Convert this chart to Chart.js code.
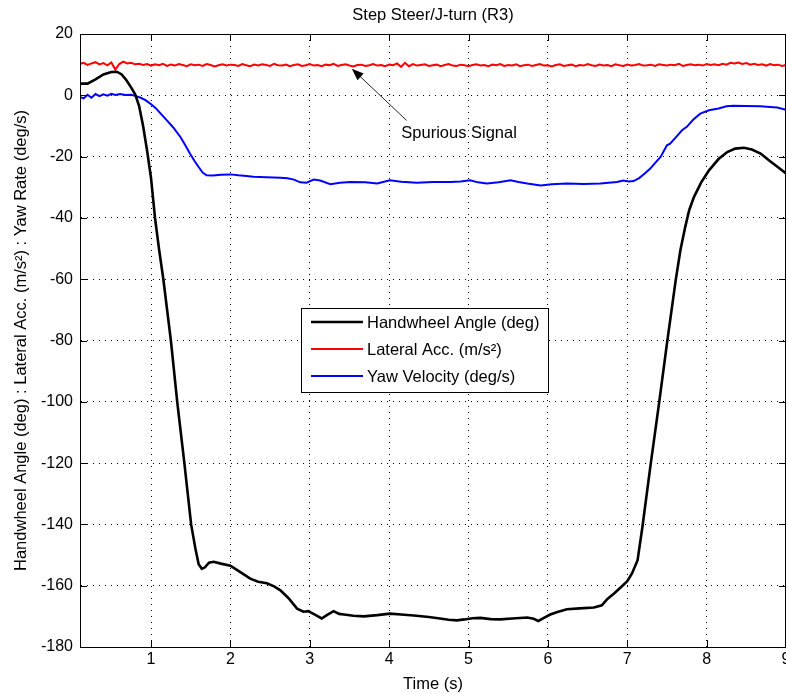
<!DOCTYPE html>
<html>
<head>
<meta charset="utf-8">
<script src="https://cdn.jsdelivr.net/npm/chart.js@4.4.0/dist/chart.umd.min.js"></script>
<style>
body { margin: 0; background: #fff; }
canvas { display: block; }
</style>
</head>
<body>
<canvas id="chart" width="786" height="694"></canvas>
<script>
// Step Steer / J-turn (R3) - handwheel, lateral acc, yaw velocity vs time
var seriesNames = ['Handwheel Angle (deg)', 'Lateral Acc. (m/s\u00B2)', 'Yaw Velocity (deg/s)'];
var xTicks = [1, 2, 3, 4, 5, 6, 7, 8, 9];
var yTicks = [20, 0, -20, -40, -60, -80, -100, -120, -140, -160, -180];

// handwheel angle (black)
var hwTime = [0.105, 0.2, 0.3, 0.4, 0.5, 0.57, 0.63, 0.69, 0.75, 0.8, 0.85, 0.9, 0.95, 1.0, 1.05, 1.1, 1.155, 1.25, 1.33, 1.42,
    1.505, 1.56, 1.6, 1.64, 1.68, 1.73, 1.79, 1.88, 2.0, 2.12, 2.25, 2.35, 2.46, 2.55, 2.63, 2.73, 2.84, 2.92, 2.98, 3.07,
    3.15, 3.22, 3.3, 3.37, 3.43, 3.55, 3.68, 3.85, 4.01, 4.15, 4.31, 4.5, 4.64, 4.75, 4.85, 4.95, 5.05, 5.15, 5.28, 5.4,
    5.55, 5.74, 5.82, 5.88, 5.95, 6.03, 6.12, 6.24, 6.4, 6.58, 6.68, 6.75, 6.83, 6.92, 7.0, 7.06, 7.13, 7.19, 7.29, 7.4,
    7.5, 7.61, 7.67, 7.73, 7.78, 7.84, 7.93, 8.03, 8.15, 8.26, 8.36, 8.47, 8.57, 8.68, 8.8, 8.9, 9.0];
var hwAngle = [3.8, 3.8, 5.2, 6.8, 7.6, 7.7, 6.8, 4.9, 2.5, 0.3, -3.5, -10, -18, -27, -40, -50, -60, -80, -100, -120,
    -140, -148, -153, -154.5, -154, -152.5, -152.2, -152.8, -153.5, -155.5, -157.7, -158.7, -159.2, -160.2, -161.5, -164, -167.5, -168.5, -168.3, -169.5,
    -170.7, -169.5, -168.3, -169.2, -169.4, -169.8, -170, -169.6, -169.1, -169.4, -169.7, -170.2, -170.7, -171.1, -171.3, -171, -170.6, -170.5, -170.9, -171,
    -170.7, -170.4, -170.8, -171.5, -170.5, -169.4, -168.6, -167.7, -167.4, -167.1, -166.4, -164.3, -162.6, -160.5, -158.5, -156, -151.7, -141, -121.3, -100.6,
    -81, -60.4, -50.5, -43, -37.5, -33.2, -28.5, -24.5, -20.8, -18.5, -17.4, -17.1, -17.7, -19, -21.5, -23.5, -25.5];

// lateral acceleration (red), sampled every 0.05 s from 0.10 s
var accStart = 0.1;
var accStep = 0.05;
var accValues = [
    10.2, 10.6, 9.9, 10.4, 10.8, 10.1, 10.5, 9.8, 10.7, 8.4, 10.2, 11.0, 10.4, 10.6, 10.1, 10.3, 9.9, 10.2, 9.7, 10.1,
    9.8, 10.3, 9.6, 10.0, 9.7, 10.2, 9.9, 9.5, 10.1, 9.8, 10.0, 9.6, 10.2, 9.9, 9.4, 9.8, 10.1, 9.7, 10.0, 9.9,
    9.6, 10.2, 9.8, 9.5, 10.0, 9.7, 10.1, 9.9, 9.6, 10.3, 9.8, 9.7, 10.0, 9.5, 9.9, 10.1, 9.6, 9.8, 10.2, 9.7,
    9.9, 9.5, 10.0, 9.8, 10.3, 9.6, 9.9, 10.1, 9.7, 9.4, 9.9, 10.0, 9.6, 9.8, 10.2, 9.7, 9.9, 9.5, 10.0, 9.8,
    10.4, 9.3, 10.6, 9.5, 10.2, 9.7, 9.9, 10.1, 9.6, 9.8, 10.0, 9.5, 9.9, 10.2, 9.7, 9.6, 10.0, 9.8, 9.5, 9.9,
    10.1, 9.7, 9.9, 9.5, 10.0, 9.8, 10.2, 9.6, 9.9, 9.7, 10.1, 9.5, 9.8, 10.0, 9.6, 9.9, 10.2, 9.7, 9.8, 9.4,
    9.9, 10.1, 9.6, 9.8, 10.0, 9.5, 9.9, 9.7, 10.2, 9.8, 9.6, 10.0, 9.7, 9.9, 9.5, 10.1, 9.8, 9.6, 10.0, 9.7,
    9.9, 10.2, 9.7, 9.8, 10.0, 9.6, 10.1, 9.9, 9.7, 10.0, 9.8, 10.3, 9.6, 9.9, 10.1, 9.8, 10.0, 9.7, 10.2, 9.9,
    10.1, 9.8, 10.3, 10.0, 10.6, 10.4, 10.7, 10.2, 10.5, 10.0, 10.3, 9.9, 10.1, 9.7, 10.2, 9.8, 10.0, 9.6, 9.9];

// yaw velocity (blue)
var yawTime = [0.105, 0.15, 0.2, 0.25, 0.3, 0.35, 0.4, 0.45, 0.5, 0.55, 0.61, 0.68, 0.75, 0.8, 0.87, 0.93, 0.99, 1.06, 1.13, 1.2,
    1.28, 1.37, 1.43, 1.49, 1.55, 1.6, 1.65, 1.7, 1.78, 1.88, 2.0, 2.1, 2.2, 2.29, 2.45, 2.63, 2.72, 2.8, 2.88, 2.96,
    3.05, 3.13, 3.26, 3.38, 3.51, 3.7, 3.85, 4.01, 4.15, 4.35, 4.55, 4.77, 4.9, 5.02, 5.12, 5.23, 5.38, 5.53, 5.63, 5.74,
    5.91, 6.05, 6.24, 6.45, 6.66, 6.87, 6.95, 7.02, 7.08, 7.15, 7.22, 7.29, 7.36, 7.42, 7.5, 7.54, 7.62, 7.69, 7.75, 7.83,
    7.92, 8.03, 8.15, 8.25, 8.34, 8.5, 8.68, 8.8, 8.89, 9.0];
var yawRate = [-0.5, -1.0, 0.2, -0.8, 0.4, -0.3, 0.3, -0.1, 0.5, 0.1, 0.4, 0.1, 0.2, -0.2, -0.8, -1.6, -2.7, -4.2, -6.2, -8.2,
    -10.5, -13.6, -16.2, -19, -21.5, -23.4, -25.2, -26.1, -26.2, -25.9, -25.8, -26.1, -26.3, -26.6, -26.7, -26.9, -27.1, -27.5, -28.4, -28.5,
    -27.5, -27.8, -29, -28.5, -28.3, -28.4, -28.8, -27.7, -28.2, -28.5, -28.3, -28.3, -28.1, -27.7, -28.4, -28.8, -28.4, -27.7, -28.3, -28.8,
    -29.4, -29, -28.8, -28.9, -28.8, -28.3, -27.8, -28.1, -28, -27, -25.5, -23.9, -21.8, -20.1, -16.3, -15.8, -13.5, -11.4, -10.3, -8,
    -6, -4.9, -4.3, -3.6, -3.4, -3.5, -3.6, -3.8, -4, -4.7];

var FONT = "'Liberation Sans', Arial, Helvetica, sans-serif";

function toPoints(xs, ys) {
    var pts = [];
    for (var i = 0; i < ys.length; i++) pts.push({x: xs[i], y: ys[i]});
    return pts;
}
var accTime = accValues.map(function (v, i) { return +(accStart + i * accStep).toFixed(2); });

// box, inward tick marks, legend and the "Spurious Signal" note
var matlabDecor = {
    id: 'matlabDecor',
    afterDatasetsDraw: function (chart) {
        var ctx = chart.ctx, a = chart.chartArea;
        var xs = chart.scales.x, ys = chart.scales.y;
        ctx.save();
        ctx.strokeStyle = '#000';
        ctx.lineWidth = 1;
        ctx.strokeRect(Math.round(a.left) + 0.5, Math.round(a.top) + 0.5, Math.round(a.right - a.left) - 1, Math.round(a.bottom - a.top));
        ctx.beginPath();
        xTicks.forEach(function (t) {
            var px = Math.round(xs.getPixelForValue(t)) + 0.5;
            ctx.moveTo(px, a.bottom); ctx.lineTo(px, a.bottom - 7);
            ctx.moveTo(px, a.top); ctx.lineTo(px, a.top + 7);
        });
        yTicks.forEach(function (t) {
            var py = Math.round(ys.getPixelForValue(t)) + 0.5;
            ctx.moveTo(a.left, py); ctx.lineTo(a.left + 7, py);
            ctx.moveTo(a.right, py); ctx.lineTo(a.right - 7, py);
        });
        ctx.stroke();
        ctx.restore();
    },
    afterDraw: function (chart) {
        var ctx = chart.ctx, a = chart.chartArea;
        var xs = chart.scales.x, ys = chart.scales.y;
        ctx.save();

        // annotation arrow
        var tipX = xs.getPixelForValue(3.53), tipY = ys.getPixelForValue(8.7);
        var tailX = xs.getPixelForValue(4.22), tailY = ys.getPixelForValue(-8.2);
        var ang = Math.atan2(tipY - tailY, tipX - tailX);
        ctx.strokeStyle = '#222';
        ctx.lineWidth = 1;
        ctx.beginPath();
        ctx.moveTo(tailX, tailY);
        ctx.lineTo(tipX - 8 * Math.cos(ang), tipY - 8 * Math.sin(ang));
        ctx.stroke();
        ctx.fillStyle = '#000';
        ctx.beginPath();
        ctx.moveTo(tipX, tipY);
        ctx.lineTo(tipX - 12 * Math.cos(ang) + 4.5 * Math.sin(ang), tipY - 12 * Math.sin(ang) - 4.5 * Math.cos(ang));
        ctx.lineTo(tipX - 12 * Math.cos(ang) - 4.5 * Math.sin(ang), tipY - 12 * Math.sin(ang) + 4.5 * Math.cos(ang));
        ctx.closePath();
        ctx.fill();
        ctx.font = '16.5px ' + FONT;
        ctx.textAlign = 'left';
        ctx.textBaseline = 'middle';
        ctx.fillText('Spurious Signal', xs.getPixelForValue(4.153), ys.getPixelForValue(-12.4));

        // legend box
        var lx = Math.round(a.left) + 221, ly = Math.round(a.top) + 274;
        ctx.fillStyle = '#fff';
        ctx.fillRect(lx, ly, 247, 84);
        ctx.strokeStyle = '#000';
        ctx.lineWidth = 1;
        ctx.strokeRect(lx + 0.5, ly + 0.5, 247, 84);
        var rows = [14, 41, 68];
        chart.data.datasets.forEach(function (ds, i) {
            var ry = ly + rows[i];
            ctx.strokeStyle = ds.borderColor;
            ctx.lineWidth = ds.borderWidth;
            ctx.beginPath();
            ctx.moveTo(lx + 10, ry);
            ctx.lineTo(lx + 62, ry);
            ctx.stroke();
            ctx.fillStyle = '#000';
            ctx.fillText(ds.label, lx + 66, ry + 1);
        });
        ctx.restore();
    }
};

document.addEventListener("DOMContentLoaded", function () {
    var ctx = document.getElementById('chart');
    var chart = new Chart(ctx, {
        type: 'line',
        data: {
            datasets: [{
                label: seriesNames[0],
                data: toPoints(hwTime, hwAngle),
                borderColor: '#000000',
                borderWidth: 2.6
            }, {
                label: seriesNames[1],
                data: toPoints(accTime, accValues),
                borderColor: '#ff0000',
                borderWidth: 2
            }, {
                label: seriesNames[2],
                data: toPoints(yawTime, yawRate),
                borderColor: '#0000ff',
                borderWidth: 2
            }]
        },
        options: {
            responsive: false,
            devicePixelRatio: 1,
            animation: false,
            layout: { padding: 0 },
            elements: {
                point: { radius: 0 },
                line: { tension: 0 }
            },
            plugins: {
                legend: { display: false },
                tooltip: { enabled: false },
                title: {
                    display: true,
                    fullSize: false,
                    text: 'Step Steer/J-turn (R3)',
                    color: '#000',
                    font: { family: FONT, size: 16.5, weight: 'normal' },
                    padding: { top: 6, bottom: 8.2 }
                }
            },
            scales: {
                x: {
                    type: 'linear',
                    min: 0.105,
                    max: 9,
                    afterBuildTicks: function (scale) {
                        scale.ticks = xTicks.map(function (v) { return {value: v}; });
                    },
                    afterFit: function (scale) {
                        scale.height = 47;
                        scale.paddingLeft = 0;
                        scale.paddingRight = 0;
                    },
                    grid: { color: '#000', lineWidth: 1, drawTicks: false },
                    border: { display: true, color: '#000', width: 1, dash: [1, 5] },
                    ticks: {
                        color: '#000',
                        padding: 3,
                        maxRotation: 0,
                        font: { family: FONT, size: 16 },
                        callback: function (v) { return String(v); }
                    },
                    title: {
                        display: true,
                        text: 'Time (s)',
                        color: '#000',
                        font: { family: FONT, size: 16.5 },
                        padding: { top: 0, bottom: 0 }
                    }
                },
                y: {
                    min: -180,
                    max: 20,
                    afterBuildTicks: function (scale) {
                        scale.ticks = yTicks.map(function (v) { return {value: v}; });
                    },
                    afterFit: function (scale) {
                        scale.width = 80;
                        scale.paddingTop = 0;
                        scale.paddingBottom = 0;
                    },
                    grid: { color: '#000', lineWidth: 1, drawTicks: false },
                    border: { display: true, color: '#000', width: 1, dash: [1, 5] },
                    ticks: {
                        color: '#000',
                        padding: 7,
                        font: { family: FONT, size: 16 }
                    },
                    title: {
                        display: true,
                        text: 'Handwheel Angle (deg) : Lateral Acc. (m/s\u00B2) : Yaw Rate (deg/s)',
                        color: '#000',
                        font: { family: FONT, size: 16.5 },
                        padding: { top: 12, bottom: 0 }
                    }
                }
            }
        },
        plugins: [matlabDecor]
    });
});
</script>
</body>
</html>
